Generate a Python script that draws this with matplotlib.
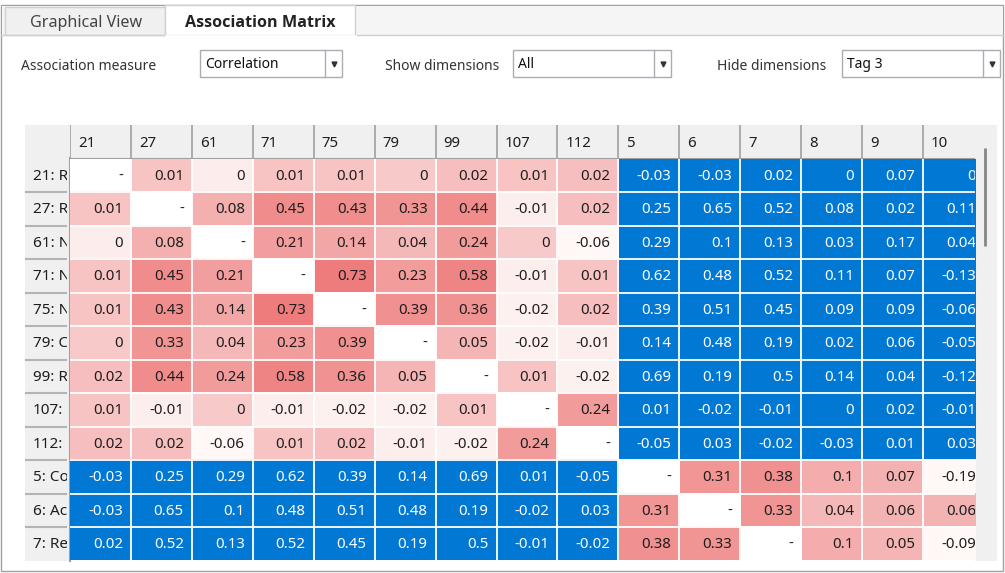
import matplotlib.pyplot as plt
from matplotlib.patches import Rectangle
import numpy as np

plt.rcParams['font.family'] = ['Noto Sans', 'DejaVu Sans']

W, H = 1005, 573

# dimensions shown as columns, rows are the first 12 of them
col_dims = ['21', '27', '61', '71', '75', '79', '99', '107', '112', '5', '6', '7', '8', '9', '10']
row_labels = ['21: R', '27: R', '61: N', '71: N', '75: N', '79: C', '99: R',
              '107:', '112:', '5: Co', '6: Ac', '7: Re']
first_group = ['21', '27', '61', '71', '75', '79', '99', '107', '112']

nan = np.nan
# correlations (diagonal = nan); zeros carry a tiny sign
corr = np.array([
    [nan, 0.01, -0.003, 0.01, 0.01, 0.003, 0.02, 0.01, 0.02, -0.03, -0.03, 0.02, 0.003, 0.07, 0.003],
    [0.01, nan, 0.08, 0.45, 0.43, 0.33, 0.44, -0.01, 0.02, 0.25, 0.65, 0.52, 0.08, 0.02, 0.11],
    [-0.003, 0.08, nan, 0.21, 0.14, 0.04, 0.24, 0.003, -0.06, 0.29, 0.1, 0.13, 0.03, 0.17, 0.04],
    [0.01, 0.45, 0.21, nan, 0.73, 0.23, 0.58, -0.01, 0.01, 0.62, 0.48, 0.52, 0.11, 0.07, -0.13],
    [0.01, 0.43, 0.14, 0.73, nan, 0.39, 0.36, -0.02, 0.02, 0.39, 0.51, 0.45, 0.09, 0.09, -0.06],
    [0.003, 0.33, 0.04, 0.23, 0.39, nan, 0.05, -0.02, -0.01, 0.14, 0.48, 0.19, 0.02, 0.06, -0.05],
    [0.02, 0.44, 0.24, 0.58, 0.36, 0.05, nan, 0.01, -0.02, 0.69, 0.19, 0.5, 0.14, 0.04, -0.12],
    [0.01, -0.01, 0.003, -0.01, -0.02, -0.02, 0.01, nan, 0.24, 0.01, -0.02, -0.01, 0.003, 0.02, -0.01],
    [0.02, 0.02, -0.06, 0.01, 0.02, -0.01, -0.02, 0.24, nan, -0.05, 0.03, -0.02, -0.03, 0.01, 0.03],
    [-0.03, 0.25, 0.29, 0.62, 0.39, 0.14, 0.69, 0.01, -0.05, nan, 0.31, 0.38, 0.1, 0.07, -0.19],
    [-0.03, 0.65, 0.1, 0.48, 0.51, 0.48, 0.19, -0.02, 0.03, 0.31, nan, 0.33, 0.04, 0.06, 0.06],
    [0.02, 0.52, 0.13, 0.52, 0.45, 0.19, 0.5, -0.01, -0.02, 0.38, 0.33, nan, 0.1, 0.05, -0.09],
])

BLUE = (0, 120, 212)


def cell_color(v):
    if np.isnan(v):
        return (255, 255, 255)
    if v >= 0:
        t = min(1.0, (v / 0.75) ** 0.4)
        lo, hi = (249, 211, 211), (238, 124, 124)
    else:
        t = min(1.0, abs(v) / 0.06) ** 0.6
        lo, hi = (252, 234, 234), (255, 248, 247)
    return tuple(a + (b - a) * t for a, b in zip(lo, hi))


def fmt(v):
    if np.isnan(v):
        return '-'
    s = f'{v:.2f}'.rstrip('0').rstrip('.')
    return '0' if s in ('-0', '') else s


fig = plt.figure(figsize=(W / 100, H / 100), dpi=100)


def px_axes(x0, y0, x1, y1, z=1):
    a = fig.add_axes([x0 / W, 1 - y1 / H, (x1 - x0) / W, (y1 - y0) / H], zorder=z)
    a.set_axis_off()
    return a


# ---- window chrome (pixel coords) ----
bg = px_axes(0, 0, W, H, z=0)
bg.set_xlim(0, W)
bg.set_ylim(H, 0)
bg.add_patch(Rectangle((1, 5), 1002, 566, fc='white', ec='#a0a0a0', lw=1))
bg.add_patch(Rectangle((1.5, 5.5), 1001, 29.5, fc='#f5f5f5', ec='none'))
bg.plot([1, 1003], [35, 35], color='#cfcfcf', lw=1)
bg.add_patch(Rectangle((5, 7), 160, 28, fc='#f0f0f0', ec='#d0d0d0', lw=1))
bg.add_patch(Rectangle((165, 5), 190, 31, fc='white', ec='#d0d0d0', lw=1))
bg.plot([165.5, 354.5], [35.5, 35.5], color='white', lw=2)
bg.text(30, 23, 'Graphical View', fontsize=11.6, color='#444444', va='center')
bg.text(185, 23, 'Association Matrix', fontsize=11.6, fontweight='bold', color='#222222',
        va='center', family=['Open Sans', 'Lato', 'DejaVu Sans'])

combos = [('Association measure', 21, 'Correlation', 200, 342),
          ('Show dimensions', 385, 'All', 513, 671),
          ('Hide dimensions', 717, 'Tag 3', 842, 1000)]
for lab, lx, val, x0, x1 in combos:
    bg.text(lx, 66, lab, fontsize=10, color='#333333', va='center')
    bg.add_patch(Rectangle((x0, 50), x1 - x0, 27, fc='white', ec='#abadb3', lw=1))
    bg.plot([x1 - 17, x1 - 17], [50, 77], color='#abadb3', lw=1)
    bg.plot(x1 - 8.5, 64, marker='v', ms=3.5, color='#333333')
    bg.text(x0 + 5, 64, val, fontsize=10, color='#111111', va='center')

# header band, label column, scrollbar
bg.add_patch(Rectangle((25, 125), 950, 33, fc='#f0f0f0', ec='none'))
bg.add_patch(Rectangle((25, 158), 45, 403, fc='#f0f0f0', ec='none'))
bg.add_patch(Rectangle((975, 125), 22, 436, fc='#f0f0f0', ec='none'))
bg.plot([985, 985], [148, 246], color='#858585', lw=2, solid_capstyle='butt')
bg.plot([70, 70], [158, 561], color='#a0a0a0', lw=1.5)

COLW = 60.93
ROWH = 33.5
x_left, x_clip = 70, 975
y_top, y_head = 125, 158.5
y_bot = y_head + ROWH * len(row_labels)
n_vis = (x_clip - x_left) / COLW

# ---- matrix body ----
ax = px_axes(x_left, y_head, x_clip, y_bot, z=2)

rgb = np.zeros((len(row_labels), len(col_dims), 3))
for i, rd in enumerate(col_dims[:len(row_labels)]):
    for j, cd in enumerate(col_dims):
        cross = (rd in first_group) != (cd in first_group)
        rgb[i, j] = np.array(BLUE if cross else cell_color(corr[i, j])) / 255.0
        ax.text(j + 1 - 8 / COLW, i + 0.53, fmt(corr[i, j]), ha='right', va='center',
                fontsize=10.8, color='white' if cross else '#1e1e1e', clip_on=True)
ax.imshow(rgb, extent=(0, len(col_dims), len(row_labels), 0), aspect='auto',
          interpolation='nearest')
ax.set_xlim(0, n_vis)
ax.set_ylim(len(row_labels), 0)
ax.vlines(np.arange(1, len(col_dims)), 0, len(row_labels), color='white', lw=1.3)
ax.hlines(np.arange(1, len(row_labels)), 0, len(col_dims), color='white', lw=1.3)

# ---- column header ----
hx = px_axes(x_left, y_top, x_clip, y_head, z=2)
hx.set_xlim(0, n_vis)
hx.set_ylim(1, 0)
for j, cd in enumerate(col_dims):
    hx.text(j + 8 / COLW, 0.55, cd, ha='left', va='center', fontsize=10.8,
            color='#1e1e1e', clip_on=True)
hx.vlines(np.arange(0, len(col_dims)), 0, 1, color='#a0a0a0', lw=1.2)
hx.hlines(1, 0, n_vis, color='#a0a0a0', lw=1.5)

# ---- row labels (clipped just inside the column edge) ----
lx = px_axes(25, y_head, 66.5, y_bot, z=2)
lx.set_xlim(25, 66.5)
lx.set_ylim(len(row_labels), 0)
for i, lab in enumerate(row_labels):
    lx.text(33, i + 0.53, lab, ha='left', va='center', fontsize=11,
            color='#1e1e1e', clip_on=True)
lx.hlines(np.arange(1, len(row_labels)), 25, 66.5, color='#b4b4b4', lw=1.5)

fig.savefig('out.png', dpi=100)
